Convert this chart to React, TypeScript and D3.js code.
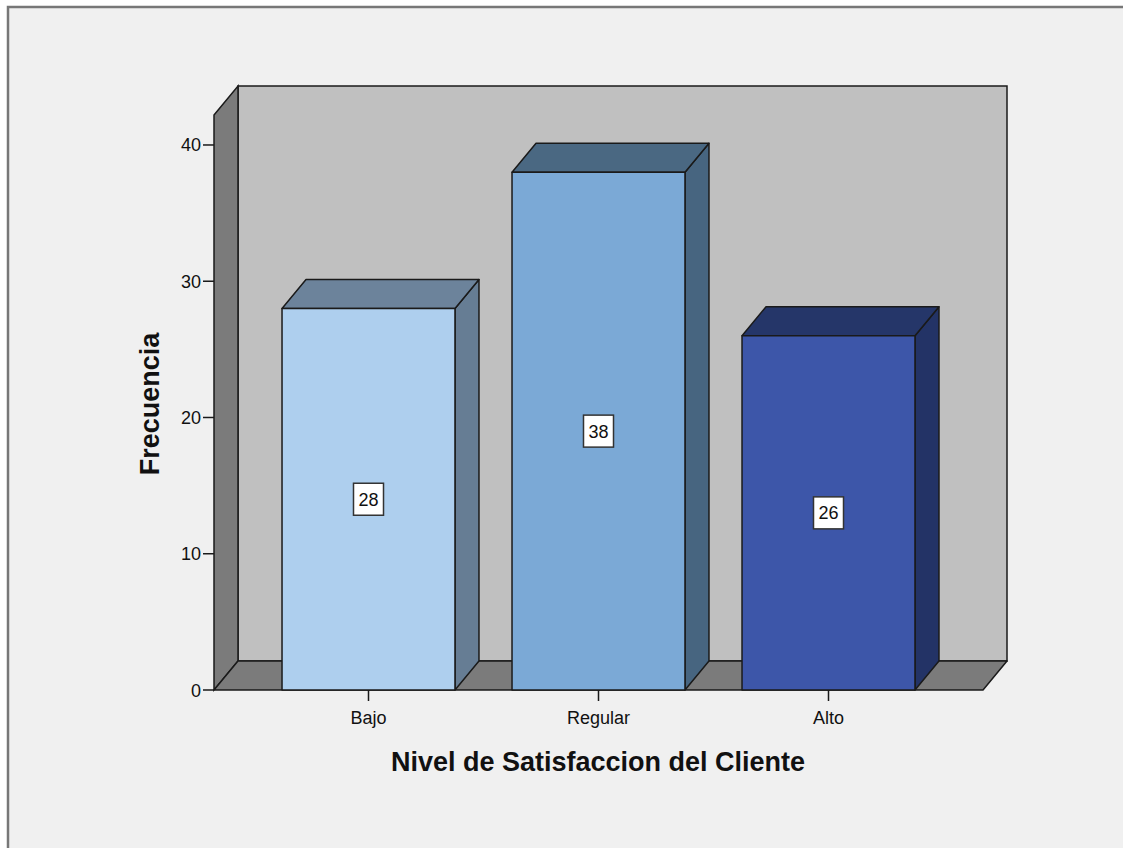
import React from "react";
import * as d3 from "d3";

// Frequency of each satisfaction level
const categories = ["Bajo", "Regular", "Alto"];
const counts = [28, 38, 26];
const yTicks = [0, 10, 20, 30, 40];

const frontColors = ["#aecfee", "#7ba9d6", "#3d56a9"];
const topColors = ["#6c839b", "#4a6882", "#253669"];
const sideColors = ["#667d94", "#476580", "#233366"];

const W = 1123;
const H = 848;

// Oblique depth offset of the 3D box
const DX = 24;
const DY = -29;

const left = 214;
const right = 983;
const floorY = 690;
const topY = 115;

export default function App() {
  const y = d3.scaleLinear().domain([0, 42.2]).range([floorY, topY]);
  const x = d3
    .scaleBand<string>()
    .domain(categories)
    .range([253.5, 943.5])
    .paddingInner(0.248)
    .paddingOuter(0.124);

  const font = "'Liberation Sans', Arial, sans-serif";
  const stroke = "#1a1a1a";
  const pts = (p: number[][]) => p.map((q) => q.join(",")).join(" ");

  return (
    <svg
      width={W}
      height={H}
      style={{ position: "absolute", left: 0, top: 0, background: "#ffffff" }}
      fontFamily={font}
    >
      <rect x={8} y={7} width={W + 20} height={H + 20} fill="#f0f0f0" stroke="#777777" strokeWidth={2.5} />

      {/* back wall */}
      <rect
        x={left + DX}
        y={topY + DY}
        width={right - left}
        height={floorY - topY}
        fill="#c0c0c0"
        stroke={stroke}
        strokeWidth={1.5}
      />
      {/* left wall */}
      <polygon
        points={pts([
          [left, topY],
          [left + DX, topY + DY],
          [left + DX, floorY + DY],
          [left, floorY],
        ])}
        fill="#7b7b7b"
        stroke={stroke}
        strokeWidth={1.5}
      />
      {/* floor */}
      <polygon
        points={pts([
          [left, floorY],
          [left + DX, floorY + DY],
          [right + DX, floorY + DY],
          [right, floorY],
        ])}
        fill="#7b7b7b"
        stroke={stroke}
        strokeWidth={1.5}
        strokeLinejoin="round"
      />

      {/* bars */}
      {categories.map((c, i) => {
        const x0 = x(c)!;
        const x1 = x0 + x.bandwidth();
        const yt = y(counts[i]);
        return (
          <g key={c} stroke={stroke} strokeWidth={1.5} strokeLinejoin="round">
            <polygon
              points={pts([
                [x1, yt],
                [x1 + DX, yt + DY],
                [x1 + DX, floorY + DY],
                [x1, floorY],
              ])}
              fill={sideColors[i]}
            />
            <polygon
              points={pts([
                [x0, yt],
                [x0 + DX, yt + DY],
                [x1 + DX, yt + DY],
                [x1, yt],
              ])}
              fill={topColors[i]}
            />
            <rect x={x0} y={yt} width={x1 - x0} height={floorY - yt} fill={frontColors[i]} />
          </g>
        );
      })}

      {/* value labels */}
      {categories.map((c, i) => {
        const cx = x(c)! + x.bandwidth() / 2;
        const cy = y(counts[i] / 2);
        return (
          <g key={"lbl" + c}>
            <rect x={cx - 15} y={cy - 16} width={30} height={32} fill="#ffffff" stroke="#333333" strokeWidth={1.5} />
            <text x={cx} y={cy + 6.5} textAnchor="middle" fontSize={18} fill="#111111">
              {counts[i]}
            </text>
          </g>
        );
      })}

      {/* y axis ticks */}
      {yTicks.map((t) => (
        <g key={"yt" + t}>
          <line x1={203} x2={left} y1={y(t)} y2={y(t)} stroke={stroke} strokeWidth={1.5} />
          <text x={201} y={y(t) + 6.5} textAnchor="end" fontSize={18} fill="#111111">
            {t}
          </text>
        </g>
      ))}

      {/* x axis ticks */}
      {categories.map((c) => {
        const cx = x(c)! + x.bandwidth() / 2;
        return (
          <g key={"xt" + c}>
            <line x1={cx} x2={cx} y1={floorY} y2={701} stroke={stroke} strokeWidth={1.5} />
            <text x={cx} y={724} textAnchor="middle" fontSize={18} fill="#111111">
              {c}
            </text>
          </g>
        );
      })}

      <text x={598} y={771} textAnchor="middle" fontSize={27} fontWeight="bold" fill="#111111">
        Nivel de Satisfaccion del Cliente
      </text>
      <text
        transform="translate(159,404) rotate(-90)"
        textAnchor="middle"
        fontSize={27}
        fontWeight="bold"
        fill="#111111"
      >
        Frecuencia
      </text>
    </svg>
  );
}
